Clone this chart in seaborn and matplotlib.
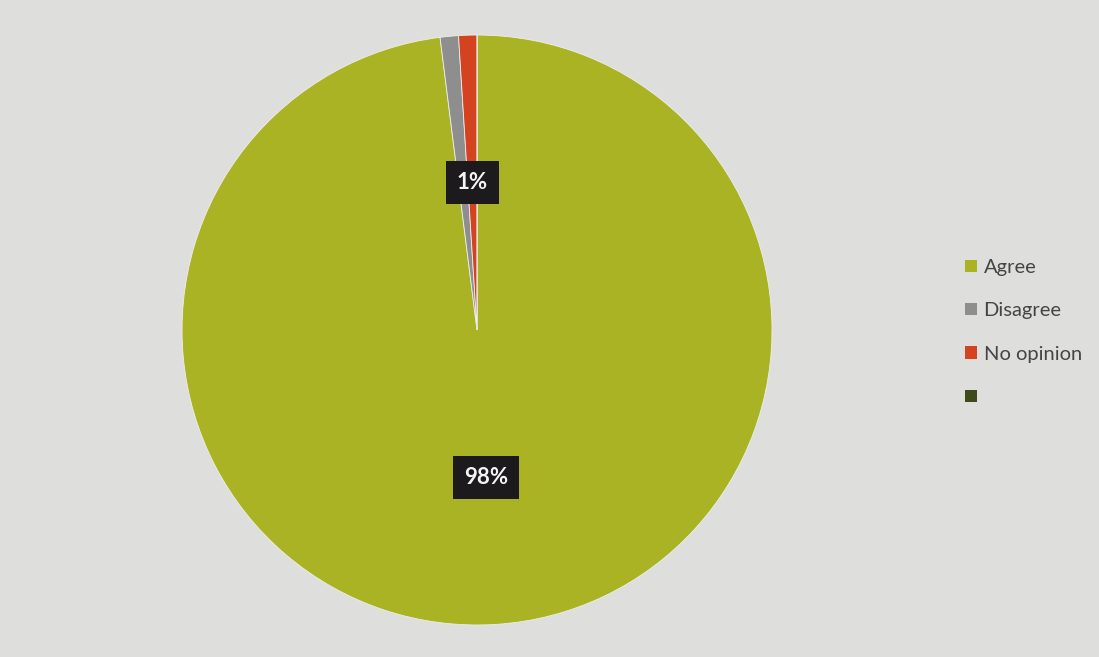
import matplotlib
matplotlib.use("Agg")
import matplotlib.pyplot as plt
import seaborn as sns
import numpy as np
from matplotlib.patches import Patch

categories = ["Agree", "Disagree", "No opinion", ""]
values = [98, 1, 1, 0]
shown_labels = ["98%", "", "1%", ""]
colors = ["#a9b323", "#8e8e8e", "#d4431f", "#3f4a1a"]

sns.set_theme(style="white")
plt.rcParams["font.family"] = ["Lato", "DejaVu Sans"]

bg = "#dededc"
fig = plt.figure(figsize=(10.99, 6.57), dpi=100, facecolor=bg)
ax = fig.add_axes([0.1656, 0.0487, 0.5369, 0.898])
ax.set_facecolor(bg)

wedges, _ = ax.pie(
    values,
    colors=colors,
    startangle=90,
    counterclock=False,
    radius=1.0,
    wedgeprops=dict(edgecolor="#eeeeee", linewidth=0.6),
)

# value tags in dark boxes at half radius, placed at each slice's mid-angle
total = sum(values)
start = 90.0
for v, lab in zip(values, shown_labels):
    sweep = 360.0 * v / total
    mid = np.deg2rad(start - sweep / 2)
    start -= sweep
    if not lab:
        continue
    ax.text(0.5 * np.cos(mid), 0.5 * np.sin(mid), lab,
            ha="center", va="center", color="#f4f4f4", fontsize=16,
            fontweight="bold",
            bbox=dict(boxstyle="square,pad=0.5", facecolor="#1c1a1c",
                      edgecolor="none"))

ax.set_xlim(-1, 1)
ax.set_ylim(-1, 1)
ax.set_aspect("equal")
ax.axis("off")

handles = [Patch(facecolor=c, edgecolor="none") for c in colors]
leg = fig.legend(handles, categories, loc="upper left",
                 bbox_to_anchor=(0.862, 0.633), frameon=False,
                 fontsize=14.5, handlelength=0.55, handleheight=0.55,
                 handletextpad=0.35, labelspacing=1.3)
for t in leg.get_texts():
    t.set_color("#454545")

fig.savefig("out.png", dpi=100, facecolor=bg)
